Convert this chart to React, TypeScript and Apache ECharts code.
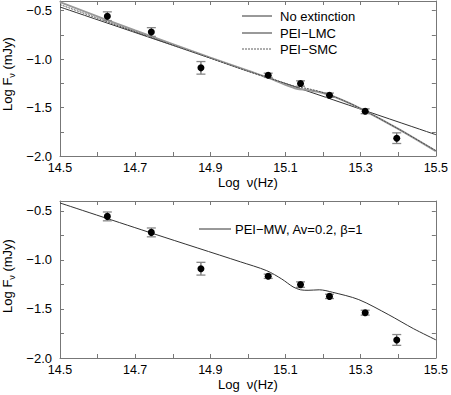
import React, { useEffect, useRef } from "react";
import * as echarts from "echarts";

// Observed data (log nu, log F, error)
const obsLogNu = [14.626, 14.743, 14.875, 15.054, 15.14, 15.217, 15.312, 15.396];
const obsLogF = [-0.557, -0.72, -1.09, -1.167, -1.252, -1.372, -1.538, -1.816];
const obsErr = [0.045, 0.045, 0.065, 0.022, 0.028, 0.022, 0.025, 0.055];

// Model curves, top panel
const noExtX = [14.5, 15.5];
const noExtY = [-0.462, -1.78];
const lmcX = [14.5, 14.7, 14.9, 15.0, 15.06, 15.1, 15.13, 15.16, 15.2, 15.25, 15.3, 15.4, 15.5];
const lmcY = [-0.412, -0.705, -0.985, -1.12, -1.2, -1.265, -1.305, -1.32, -1.35, -1.42, -1.51, -1.72, -1.95];
const smcX = [14.5, 14.7, 14.9, 15.0, 15.06, 15.1, 15.13, 15.16, 15.2, 15.25, 15.3, 15.4, 15.5];
const smcY = [-0.437, -0.718, -0.99, -1.125, -1.2, -1.25, -1.285, -1.305, -1.345, -1.42, -1.51, -1.72, -1.945];

// Model curve, bottom panel
const mwX = [14.5, 14.75, 14.98, 15.05, 15.09, 15.12, 15.14, 15.16, 15.19, 15.225, 15.295, 15.375, 15.44, 15.5];
const mwY = [-0.42, -0.735, -1.02, -1.11, -1.195, -1.275, -1.305, -1.31, -1.305, -1.33, -1.405, -1.56, -1.7, -1.815];

const xTicks = ["14.5", "14.7", "14.9", "15.1", "15.3", "15.5"];
const yTicks = ["-2.0", "-1.5", "-1.0", "-0.5"];

const seriesNames = ["No extinction", "PEI−LMC", "PEI−SMC", "PEI−MW, Av=0.2, β=1"];

const FONT = "Liberation Sans, Arial, sans-serif";
const AXIS_COLOR = "#777";

const styles: any[] = [
  { color: "#333", width: 1 },
  { color: "#999", width: 2 },
  { color: "#333", width: 0.8, type: [2, 1] },
  { color: "#333", width: 1 },
];

const zip = (xs: number[], ys: number[]) => xs.map((x, i) => [x, ys[i]]);

export default function App() {
  const ref = useRef<HTMLDivElement>(null);
  useEffect(() => {
    if (!ref.current) return;
    const chart = echarts.init(ref.current, undefined, { renderer: "svg" });

    const xFmt = (v: number) => {
      const s = v.toFixed(1);
      return xTicks.includes(s) ? s : "";
    };
    const yFmt = (v: number) => {
      const s = v.toFixed(1);
      return yTicks.includes(s) && Math.abs(v * 10 - Math.round(v * 10)) < 1e-6 ? s.replace("-", "−") : "";
    };

    const makeX = (grid: number, mirror: boolean) => ({
      type: "value",
      gridIndex: grid,
      position: mirror ? "top" : "bottom",
      min: 14.5,
      max: 15.5,
      interval: 0.1,
      name: mirror ? "" : "Log  ν(Hz)",
      nameLocation: "middle",
      nameGap: 20,
      nameTextStyle: { color: "#000", fontSize: 13, fontFamily: FONT, verticalAlign: "top" },
      axisLine: { show: true, onZero: false, lineStyle: { color: AXIS_COLOR, width: 1 } },
      axisTick: { show: true, inside: true, length: 4, lineStyle: { color: AXIS_COLOR } },
      axisLabel: {
        show: !mirror,
        formatter: xFmt,
        color: "#000",
        fontSize: 12.5,
        fontFamily: FONT,
        margin: 5,
      },
      splitLine: { show: false },
    });

    const makeY = (grid: number, mirror: boolean) => ({
      type: "value",
      gridIndex: grid,
      position: mirror ? "right" : "left",
      min: -2.0,
      max: -0.4,
      interval: 0.25,
      axisLine: { show: true, onZero: false, lineStyle: { color: AXIS_COLOR, width: 1 } },
      axisTick: { show: true, inside: true, length: 4, lineStyle: { color: AXIS_COLOR } },
      axisLabel: {
        show: !mirror,
        formatter: yFmt,
        color: "#000",
        fontSize: 13,
        fontFamily: FONT,
        margin: 8,
        showMaxLabel: false,
      },
      splitLine: { show: false },
    });

    const errData = obsLogNu.map((x, i) => [x, obsLogF[i], obsErr[i]]);
    const errSeries = (grid: number) => ({
      type: "custom",
      name: "err" + grid,
      xAxisIndex: grid,
      yAxisIndex: grid,
      data: errData,
      encode: { x: 0, y: 1 },
      z: 3,
      renderItem: (params: any, api: any) => {
        const x = api.value(0);
        const y = api.value(1);
        const e = api.value(2);
        const t = api.coord([x, y + e]);
        const b = api.coord([x, y - e]);
        const w = 4.5;
        return {
          type: "group",
          children: [
            { type: "line", shape: { x1: t[0], y1: t[1], x2: b[0], y2: b[1] }, style: { stroke: "#444", lineWidth: 1 } },
            { type: "line", shape: { x1: t[0] - w, y1: t[1], x2: t[0] + w, y2: t[1] }, style: { stroke: "#888", lineWidth: 1.3 } },
            { type: "line", shape: { x1: b[0] - w, y1: b[1], x2: b[0] + w, y2: b[1] }, style: { stroke: "#888", lineWidth: 1.3 } },
          ],
        };
      },
    });
    const ptSeries = (grid: number) => ({
      type: "scatter",
      name: "pts" + grid,
      xAxisIndex: grid,
      yAxisIndex: grid,
      data: zip(obsLogNu, obsLogF),
      symbol: "circle",
      symbolSize: 7,
      itemStyle: { color: "#000", opacity: 1 },
      z: 4,
    });

    const lineSeries = (i: number, xs: number[], ys: number[], grid: number) => ({
      type: "line",
      name: seriesNames[i],
      xAxisIndex: grid,
      yAxisIndex: grid,
      data: zip(xs, ys),
      symbol: "none",
      showSymbol: false,
      smooth: 0.3,
      lineStyle: styles[i],
      itemStyle: { color: styles[i].color },
      z: 2,
    });

    const legendEntry = (i: number, x1: number, x2: number, y: number, tx: number) => [
      {
        type: "line",
        shape: { x1, y1: y, x2, y2: y },
        style: {
          stroke: styles[i].color,
          lineWidth: styles[i].width,
          lineDash: Array.isArray(styles[i].type) ? styles[i].type : null,
        },
      },
      {
        type: "text",
        x: tx,
        y,
        style: {
          text: seriesNames[i],
          fill: "#000",
          fontSize: 13,
          fontFamily: FONT,
          verticalAlign: "middle",
          align: "left",
        },
      },
    ];

    const yName = (cy: number) => ({
      type: "text",
      x: 7,
      y: cy,
      rotation: Math.PI / 2,
      style: {
        text: "{n|Log F}{sub|ν}{n| (mJy)}",
        fill: "#000",
        fontSize: 13,
        fontFamily: FONT,
        align: "center",
        verticalAlign: "middle",
        rich: {
          n: { fontSize: 13, fontFamily: FONT, fill: "#000", lineHeight: 18, verticalAlign: "middle" },
          sub: { fontSize: 9, fontFamily: FONT, fill: "#000", lineHeight: 9, verticalAlign: "bottom" },
        },
      },
    });

    chart.setOption({
      animation: false,
      backgroundColor: "#fff",
      grid: [
        { left: 60, top: 1, width: 377, height: 155 },
        { left: 60, top: 201, width: 377, height: 157 },
      ],
      xAxis: [makeX(0, false), makeX(1, false), makeX(0, true), makeX(1, true)],
      yAxis: [makeY(0, false), makeY(1, false), makeY(0, true), makeY(1, true)],
      graphic: [
        ...legendEntry(0, 242, 272, 16, 280),
        ...legendEntry(1, 242, 272, 33, 280),
        ...legendEntry(2, 242, 272, 49, 280),
        ...legendEntry(3, 199, 231, 229, 235),
        yName(74),
        yName(276),
      ],
      series: [
        lineSeries(0, noExtX, noExtY, 0),
        lineSeries(1, lmcX, lmcY, 0),
        lineSeries(2, smcX, smcY, 0),
        lineSeries(3, mwX, mwY, 1),
        errSeries(0),
        errSeries(1),
        ptSeries(0),
        ptSeries(1),
      ],
    });
    return () => chart.dispose();
  }, []);

  return (
    <div
      ref={ref}
      style={{ position: "fixed", left: 0, top: 0, width: 451, height: 395, background: "#fff" }}
    />
  );
}
